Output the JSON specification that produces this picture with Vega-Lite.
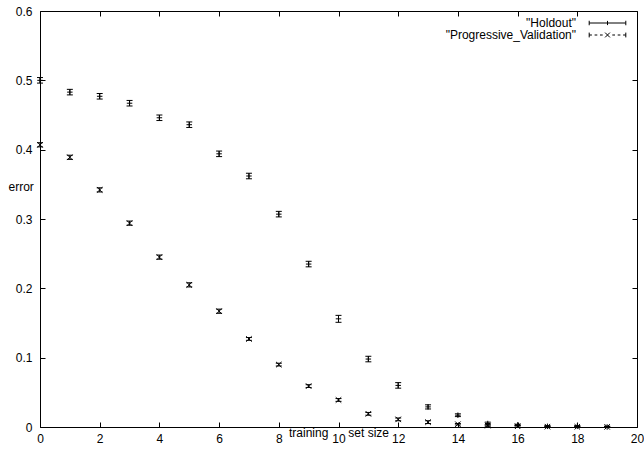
{
  "$schema": "https://vega.github.io/schema/vega-lite/v6.json",
  "width": 597,
  "height": 416,
  "autosize": "none",
  "padding": {"left": 40, "top": 11, "right": 7, "bottom": 22},
  "background": "white",
  "config": {
    "font": "Liberation Sans",
    "view": {"stroke": null},
    "axis": {
      "grid": false,
      "domainColor": "black",
      "tickColor": "black",
      "labelColor": "black",
      "titleColor": "black",
      "labelFont": "Liberation Sans",
      "titleFont": "Liberation Sans",
      "labelFontSize": 12,
      "titleFontSize": 12,
      "titleFontWeight": "normal",
      "tickSize": -5,
      "domainWidth": 1,
      "tickWidth": 1
    }
  },
  "data": {
    "values": [
      {"series": "Holdout", "x": 0, "y": 0.500, "lo": 0.496, "hi": 0.504},
      {"series": "Holdout", "x": 1, "y": 0.483, "lo": 0.479, "hi": 0.487},
      {"series": "Holdout", "x": 2, "y": 0.477, "lo": 0.473, "hi": 0.481},
      {"series": "Holdout", "x": 3, "y": 0.467, "lo": 0.463, "hi": 0.471},
      {"series": "Holdout", "x": 4, "y": 0.446, "lo": 0.442, "hi": 0.450},
      {"series": "Holdout", "x": 5, "y": 0.436, "lo": 0.432, "hi": 0.440},
      {"series": "Holdout", "x": 6, "y": 0.394, "lo": 0.390, "hi": 0.398},
      {"series": "Holdout", "x": 7, "y": 0.362, "lo": 0.358, "hi": 0.366},
      {"series": "Holdout", "x": 8, "y": 0.307, "lo": 0.303, "hi": 0.311},
      {"series": "Holdout", "x": 9, "y": 0.235, "lo": 0.231, "hi": 0.239},
      {"series": "Holdout", "x": 10, "y": 0.156, "lo": 0.151, "hi": 0.161},
      {"series": "Holdout", "x": 11, "y": 0.098, "lo": 0.094, "hi": 0.102},
      {"series": "Holdout", "x": 12, "y": 0.060, "lo": 0.056, "hi": 0.064},
      {"series": "Holdout", "x": 13, "y": 0.029, "lo": 0.026, "hi": 0.032},
      {"series": "Holdout", "x": 14, "y": 0.017, "lo": 0.015, "hi": 0.019},
      {"series": "Holdout", "x": 15, "y": 0.005, "lo": 0.003, "hi": 0.007},
      {"series": "Holdout", "x": 16, "y": 0.003, "lo": 0.002, "hi": 0.004},
      {"series": "Holdout", "x": 17, "y": 0.001, "lo": 0.000, "hi": 0.002},
      {"series": "Holdout", "x": 18, "y": 0.001, "lo": 0.000, "hi": 0.002},
      {"series": "Holdout", "x": 19, "y": 0.000, "lo": 0.000, "hi": 0.001},
      {"series": "Progressive_Validation", "x": 0, "y": 0.407, "lo": 0.404, "hi": 0.410},
      {"series": "Progressive_Validation", "x": 1, "y": 0.389, "lo": 0.386, "hi": 0.392},
      {"series": "Progressive_Validation", "x": 2, "y": 0.342, "lo": 0.339, "hi": 0.345},
      {"series": "Progressive_Validation", "x": 3, "y": 0.294, "lo": 0.291, "hi": 0.297},
      {"series": "Progressive_Validation", "x": 4, "y": 0.245, "lo": 0.242, "hi": 0.248},
      {"series": "Progressive_Validation", "x": 5, "y": 0.205, "lo": 0.202, "hi": 0.208},
      {"series": "Progressive_Validation", "x": 6, "y": 0.167, "lo": 0.164, "hi": 0.170},
      {"series": "Progressive_Validation", "x": 7, "y": 0.127, "lo": 0.125, "hi": 0.129},
      {"series": "Progressive_Validation", "x": 8, "y": 0.090, "lo": 0.088, "hi": 0.092},
      {"series": "Progressive_Validation", "x": 9, "y": 0.059, "lo": 0.057, "hi": 0.061},
      {"series": "Progressive_Validation", "x": 10, "y": 0.039, "lo": 0.037, "hi": 0.041},
      {"series": "Progressive_Validation", "x": 11, "y": 0.019, "lo": 0.017, "hi": 0.021},
      {"series": "Progressive_Validation", "x": 12, "y": 0.011, "lo": 0.009, "hi": 0.013},
      {"series": "Progressive_Validation", "x": 13, "y": 0.007, "lo": 0.005, "hi": 0.009},
      {"series": "Progressive_Validation", "x": 14, "y": 0.004, "lo": 0.003, "hi": 0.005},
      {"series": "Progressive_Validation", "x": 15, "y": 0.002, "lo": 0.001, "hi": 0.003},
      {"series": "Progressive_Validation", "x": 16, "y": 0.001, "lo": 0.000, "hi": 0.002},
      {"series": "Progressive_Validation", "x": 17, "y": 0.0005, "lo": 0.000, "hi": 0.001},
      {"series": "Progressive_Validation", "x": 18, "y": 0.0003, "lo": 0.000, "hi": 0.001},
      {"series": "Progressive_Validation", "x": 19, "y": 0.0002, "lo": 0.000, "hi": 0.001}
    ]
  },
  "layer": [
    {
      "mark": {"type": "rule", "color": "black", "strokeWidth": 1},
      "encoding": {
        "x": {
          "field": "x", "type": "quantitative",
          "scale": {"domain": [0, 20], "nice": false, "zero": false},
          "axis": {
            "orient": "bottom",
            "values": [0, 2, 4, 6, 8, 10, 12, 14, 16, 18, 20],
            "labelPadding": 11,
            "labelFlush": false,
            "labelOverlap": false,
            "title": "training\u00a0\u00a0\u00a0\u00a0\u00a0\u00a0set size",
            "titleAnchor": "middle",
            "titleBaseline": "alphabetic",
            "titleY": 9,
            "titlePadding": 0
          }
        },
        "y": {
          "field": "lo", "type": "quantitative",
          "scale": {"domain": [0, 0.6], "nice": false, "zero": false},
          "axis": {
            "orient": "left",
            "values": [0, 0.1, 0.2, 0.3, 0.4, 0.5, 0.6],
            "labelExpr": "datum.value == 0 ? '0' : format(datum.value, '.1f')",
            "labelPadding": 13,
            "labelFlush": false,
            "labelOverlap": false,
            "title": "error",
            "titleAngle": 0,
            "titleAlign": "left",
            "titleBaseline": "alphabetic",
            "titleX": -32,
            "titleY": 179
          }
        },
        "y2": {"field": "hi"}
      }
    },
    {
      "mark": {"type": "point", "shape": "M-1,0L1,0", "size": 36, "filled": false, "color": "black", "strokeWidth": 1, "opacity": 1},
      "encoding": {
        "x": {
          "field": "x", "type": "quantitative",
          "axis": {"orient": "top", "values": [0, 2, 4, 6, 8, 10, 12, 14, 16, 18, 20], "labels": false, "title": null}
        },
        "y": {
          "field": "lo", "type": "quantitative",
          "axis": {"orient": "right", "values": [0, 0.1, 0.2, 0.3, 0.4, 0.5, 0.6], "labels": false, "title": null}
        }
      }
    },
    {
      "mark": {"type": "point", "shape": "M-1,0L1,0", "size": 36, "filled": false, "color": "black", "strokeWidth": 1, "opacity": 1},
      "encoding": {
        "x": {"field": "x", "type": "quantitative", "axis": null},
        "y": {"field": "hi", "type": "quantitative", "axis": null}
      }
    },
    {
      "mark": {"type": "point", "size": 30, "filled": false, "color": "black", "strokeWidth": 1, "opacity": 1},
      "encoding": {
        "x": {"field": "x", "type": "quantitative", "axis": null},
        "y": {"field": "y", "type": "quantitative", "axis": null},
        "shape": {
          "field": "series", "type": "nominal",
          "scale": {
            "domain": ["Holdout", "Progressive_Validation"],
            "range": ["M-1,0L1,0M0,-1L0,1", "M-1,-1L1,1M-1,1L1,-1"]
          },
          "legend": null
        }
      }
    },
    {
      "mark": {"type": "point", "size": 36, "filled": false, "color": "black", "strokeWidth": 1, "opacity": 0},
      "encoding": {
        "x": {"field": "x", "type": "quantitative", "axis": null},
        "y": {"field": "y", "type": "quantitative", "axis": null},
        "shape": {
          "field": "series", "type": "nominal",
          "scale": {
            "domain": ["Holdout", "Progressive_Validation"],
            "range": [
              "M-6.1,0L6.1,0M-6.1,-0.75L-6.1,0.75M6.1,-0.75L6.1,0.75M0,-0.7L0,0.7",
              "M-6.1,0L-5.2,0M-4.3,0L-3.4,0M-2.5,0L-1.6,0M1.6,0L2.5,0M3.4,0L4.3,0M5.2,0L6.1,0M-6.1,-0.8L-6.1,0.8M6.1,-0.8L6.1,0.8M-0.8,-0.8L0.8,0.8M-0.8,0.8L0.8,-0.8"
            ]
          },
          "legend": {
            "orient": "none",
            "legendX": 561.5,
            "legendY": 6,
            "title": null,
            "padding": 0,
            "rowPadding": 0,
            "labelExpr": "'\"' + datum.label + '\"'",
            "labelFont": "Liberation Sans",
            "labelFontSize": 12,
            "labelColor": "black",
            "labelAlign": "right",
            "labelOffset": -37.5,
            "labelLimit": 0,
            "symbolSize": 36,
            "symbolStrokeColor": "black",
            "symbolStrokeWidth": 1,
            "symbolFillColor": "transparent",
            "symbolOpacity": 1
          }
        }
      }
    }
  ],
  "resolve": {"axis": {"x": "independent", "y": "independent"}, "scale": {"shape": "independent"}}
}
